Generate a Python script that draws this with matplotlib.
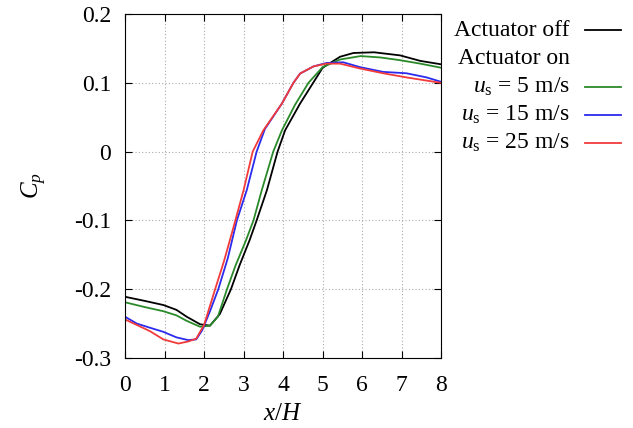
import matplotlib
matplotlib.use("Agg")
import matplotlib.pyplot as plt
from matplotlib.lines import Line2D

plt.rcParams['font.family'] = ['Liberation Serif', 'DejaVu Serif']
plt.rcParams['mathtext.fontset'] = 'custom'
plt.rcParams['mathtext.rm'] = 'Liberation Serif'
plt.rcParams['mathtext.it'] = 'Liberation Serif:italic'

# Actuator off
x_off = [0, 0.5, 0.97, 1.3, 1.56, 1.9, 2.15, 2.4, 2.68, 2.9, 3.15, 3.33, 3.59,
         3.86, 4.05, 4.43, 4.77, 5.0, 5.44, 5.78, 6.3, 6.96, 7.47, 8.0]
cp_off = [-0.211, -0.217, -0.223, -0.230, -0.240, -0.251, -0.253, -0.236, -0.200,
          -0.165, -0.129, -0.100, -0.056, 0.000, 0.031, 0.070, 0.101, 0.122,
          0.138, 0.1435, 0.1445, 0.140, 0.132, 0.127]

# Actuator on, u_s = 5 m/s
x_5 = [0, 0.5, 0.97, 1.3, 1.56, 1.9, 2.15, 2.35, 2.58, 2.8, 3.06, 3.25, 3.46,
       3.75, 3.97, 4.3, 4.64, 5.0, 5.44, 5.96, 6.46, 6.96, 7.47, 8.0]
cp_5 = [-0.219, -0.226, -0.232, -0.238, -0.246, -0.2546, -0.253, -0.240, -0.200,
        -0.165, -0.129, -0.100, -0.056, 0.000, 0.031, 0.068, 0.100, 0.123,
        0.134, 0.139, 0.137, 0.133, 0.128, 0.122]

# Actuator on, u_s = 15 m/s
x_15 = [0, 0.3, 0.63, 0.97, 1.3, 1.6, 1.8, 1.95, 2.15, 2.36, 2.6, 2.83, 3.08,
        3.33, 3.54, 3.97, 4.26, 4.43, 4.77, 5.1, 5.52, 5.94, 6.53, 7.12, 7.63, 8.0]
cp_15 = [-0.240, -0.250, -0.256, -0.262, -0.270, -0.274, -0.273, -0.260, -0.232,
         -0.200, -0.155, -0.100, -0.056, 0.000, 0.033, 0.070, 0.100, 0.1136,
         0.124, 0.129, 0.130, 0.123, 0.116, 0.114, 0.108, 0.1015]

# Actuator on, u_s = 25 m/s
x_25 = [0, 0.3, 0.63, 0.97, 1.35, 1.6, 1.8, 2.0, 2.28, 2.5, 2.72, 3.0, 3.23,
        3.5, 3.97, 4.26, 4.43, 4.77, 5.1, 5.44, 5.94, 6.53, 7.12, 8.0]
cp_25 = [-0.244, -0.252, -0.261, -0.273, -0.279, -0.276, -0.272, -0.252, -0.200,
         -0.160, -0.115, -0.056, 0.000, 0.031, 0.070, 0.100, 0.1136, 0.124,
         0.128, 0.128, 0.121, 0.114, 0.108, 0.100]

series = [
    ("Actuator off", x_off, cp_off, "black"),
    (r"$u_\mathrm{s}$ = 5 m/s", x_5, cp_5, "#2a8a2a"),
    (r"$u_\mathrm{s}$ = 15 m/s", x_15, cp_15, "#2b2bef"),
    (r"$u_\mathrm{s}$ = 25 m/s", x_25, cp_25, "#f23a3a"),
]

fig = plt.figure(figsize=(6.33, 4.28), dpi=100)
ax = fig.add_axes([0.1975, 0.1636, 0.4995, 0.8034])

for label, xs, ys, color in series:
    ax.plot(xs, ys, color=color, lw=1.3)

ax.set_xlim(0, 8)
ax.set_ylim(-0.3, 0.2)
ax.set_xticks(range(0, 9))
ax.set_yticks([-0.3, -0.2, -0.1, 0, 0.1, 0.2])
ax.set_yticklabels(["-0.3", "-0.2", "-0.1", "0", "0.1", "0.2"])
ax.grid(True, color="#aaaaaa", ls=(0, (1, 2)), lw=0.8)
ax.tick_params(direction="in", top=True, right=True, labelsize=17, length=5)
ax.tick_params(axis="y", pad=10)
ax.tick_params(axis="x", pad=12)
ax.set_xlabel("$x/H$", fontsize=18, labelpad=5)
ax.set_ylabel("$C_p$", fontsize=18, labelpad=18)

# legend drawn by hand: right-aligned text, sample line on the right
rows = [("Actuator off", "black"), ("Actuator on", None)] + \
       [(s[0], s[3]) for s in series[1:]]
y0 = 1 - 30 / 428
dy = 28.3 / 428
for i, (text, color) in enumerate(rows):
    y = y0 - i * dy
    fig.text(570 / 633, y, text, ha="right", va="center", fontsize=17)
    if color is not None:
        fig.add_artist(Line2D([585 / 633, 621 / 633], [y, y], color=color, lw=1.3))

fig.savefig("out.png", dpi=100)
